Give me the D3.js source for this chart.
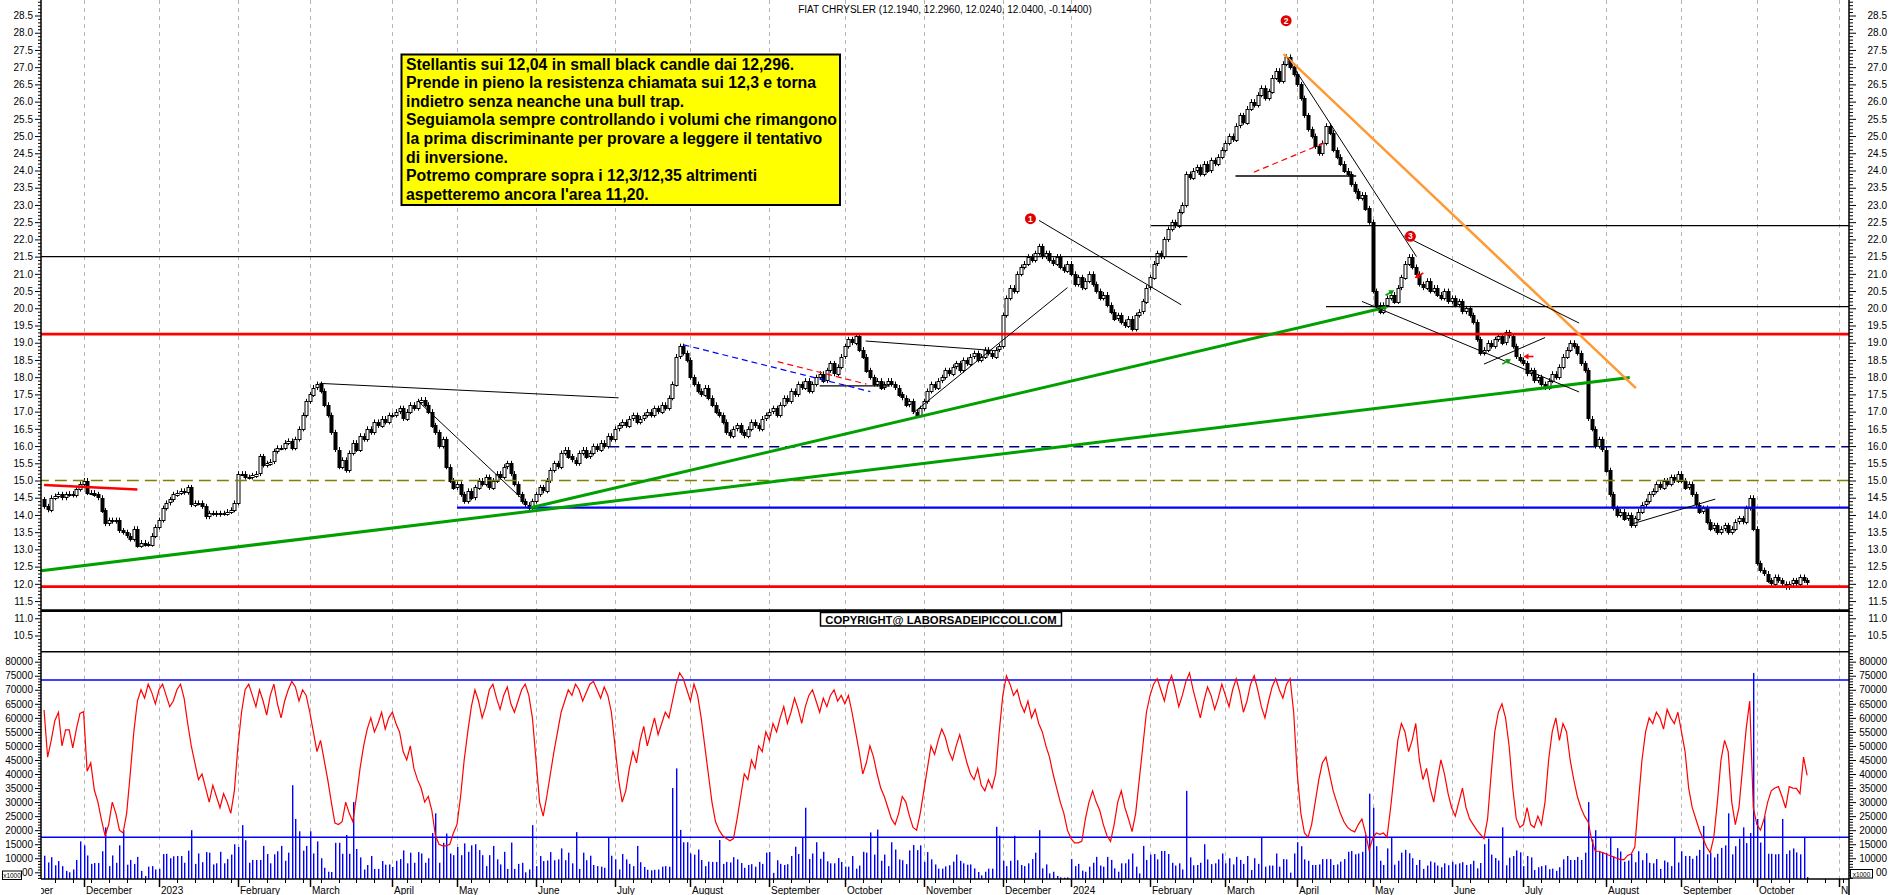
<!DOCTYPE html>
<html>
<head>
<meta charset="utf-8">
<script src="https://cdn.jsdelivr.net/npm/d3@7/dist/d3.min.js"></script>
<style>
  body { margin: 0; background: #fff; }
  svg { display: block; font-family: "Liberation Sans", Arial, sans-serif; }
</style>
</head>
<body>
<script>
// ---- data: daily closes (EUR), one row per month, first day 2022-11-16 ----
var firstOpen = 14.45;
var closes = [
  14.25,14.15,14.5,14.55,14.6,14.5,14.6,14.62,14.58,14.75,14.9,
  15.0,14.65,14.65,14.6,14.5,14.13,13.75,13.85,13.82,13.85,13.55,13.5,13.4,13.3,13.6,13.12,13.2,13.15,13.15,13.4,13.65,
  13.85,14.2,14.35,14.45,14.6,14.65,14.7,14.66,14.8,14.3,14.35,14.35,14.25,13.95,14.05,14.05,14.02,14.05,14.05,14.1,14.15,14.35,
  15.2,15.2,15.1,15.1,15.15,15.2,15.7,15.45,15.5,15.55,15.85,15.95,15.95,16.1,16.15,15.95,16.2,16.5,16.9,17.3,
  17.5,17.7,17.8,17.6,17.2,16.9,16.4,15.9,15.4,15.6,15.3,15.8,16.1,15.9,16.3,16.2,16.5,16.4,16.7,16.6,16.8,16.7,16.9,
  16.9,17.0,17.1,16.8,17.0,17.2,17.1,17.3,17.35,17.2,17.0,16.6,16.4,16.0,16.2,15.4,15.0,14.8,
  14.9,14.6,14.4,14.7,14.5,14.8,15.0,14.9,15.1,14.8,15.0,15.2,15.1,15.4,15.5,15.2,14.9,14.6,14.4,14.3,14.2,14.4,
  14.6,14.8,14.7,15.0,15.3,15.5,15.4,15.8,15.9,15.7,15.6,15.5,15.8,15.9,15.7,15.8,16.0,15.9,16.1,16.0,16.3,16.2,
  16.5,16.6,16.7,16.6,16.8,16.9,16.7,16.8,16.9,17.0,16.9,17.1,17.0,17.2,17.1,17.4,17.8,18.6,18.9,18.7,18.5,
  18.0,17.8,17.6,17.5,17.7,17.4,17.2,17.0,16.9,16.7,16.4,16.3,16.5,16.6,16.4,16.3,16.5,16.7,16.6,16.5,16.8,16.9,
  17.0,17.1,16.9,17.2,17.4,17.3,17.6,17.5,17.8,17.7,17.9,17.6,17.8,18.0,18.1,17.9,18.2,18.4,18.1,18.3,18.6,
  18.9,19.1,19.0,19.2,18.8,18.6,18.2,18.0,17.8,17.9,17.7,17.8,17.9,17.8,17.7,17.5,17.4,17.2,17.3,17.0,16.9,17.1,
  17.3,17.6,17.8,17.7,17.9,18.0,18.2,18.1,18.3,18.4,18.2,18.5,18.4,18.6,18.7,18.5,18.6,18.8,18.7,18.6,18.8,18.9,
  19.8,20.3,20.6,20.5,21.0,21.2,21.3,21.5,21.4,21.6,21.8,21.5,21.6,21.4,21.3,21.5,21.2,21.1,21.3,
  21.0,20.7,20.9,20.6,20.8,21.0,20.7,20.5,20.3,20.4,20.1,19.9,19.7,19.8,19.6,19.5,19.7,19.4,19.8,19.9,20.2,20.6,
  20.9,21.3,21.6,21.5,22.0,22.3,22.5,22.4,22.8,23.0,23.9,23.8,24.0,24.1,23.9,24.2,24.0,24.3,24.2,24.4,24.6,
  24.8,25.0,24.9,25.3,25.6,25.4,25.8,26.0,25.9,26.2,26.4,26.1,26.3,26.7,26.9,26.6,27.1,27.3,27.0,26.8,
  26.5,26.1,25.6,25.2,25.0,24.7,24.5,24.8,25.3,25.1,24.6,24.4,24.2,24.0,23.9,23.6,23.4,23.2,23.3,22.9,22.5,
  20.5,20.1,19.9,20.1,20.3,20.4,20.2,20.6,20.9,21.3,21.5,21.2,21.0,20.7,20.6,20.8,20.5,20.6,20.4,20.3,20.5,20.2,
  20.3,20.1,20.2,19.9,20.0,19.8,19.6,19.1,18.7,18.8,19.0,18.9,19.1,19.2,19.0,19.3,19.2,18.9,18.6,18.5,
  18.4,18.1,18.2,17.9,18.0,17.8,17.7,17.9,18.1,18.0,18.3,18.6,18.8,19.0,18.9,18.7,18.4,18.2,16.8,16.5,16.0,16.2,15.9,
  15.3,14.6,14.2,14.0,14.1,13.9,14.0,13.7,13.9,14.1,14.3,14.4,14.6,14.7,14.9,14.8,15.0,14.9,15.1,15.0,15.2,
  15.0,14.8,14.9,14.6,14.3,14.1,14.2,13.8,13.6,13.7,13.5,13.6,13.7,13.5,13.6,13.8,13.9,13.8,14.2,14.5,13.6,
  12.6,12.4,12.3,12.1,12.0,12.2,12.1,12.0,11.9,12.0,12.1,12.0,12.2,12.1,12.04
];

// daily volume, thousands (axis is x1000)
var volumes = [
  10.9,8.5,10.4,7.5,9,7.2,5.5,5,6,9.4,16,
  14.6,11,8,8.3,8.3,12.5,21,7.2,11,8.4,14.6,20,7.7,9.4,8,10.5,5.5,3.7,7,7.2,6,
  6.2,11.5,11.6,10,10.7,10.8,10.8,8.4,12.7,20,8,11.7,8.6,12.2,12,7.8,8.2,12.3,8.2,9.7,11.3,15,
  14,21.8,16.4,8.4,9.4,9.4,9.4,14.4,11.5,8.2,11.4,12.5,14.4,9.1,12,36,24,19.6,12.7,14.4,
  19.6,11.7,16,10,6.6,5.2,5.1,15.5,15.5,11.6,18.3,11.6,30,13.3,10.3,6,7.6,10.8,6.2,6.2,9,7.7,7.8,
  6.9,9.1,9.7,12.8,8.2,12,8.4,12.2,11.7,8.4,10,19,26,8.4,15.5,18.8,11.7,11.1,
  14,11.1,15.3,12.3,14.6,15,12.9,11.1,7.2,11.1,14.4,9.6,7.8,12.3,6.2,15.6,6.2,8,8.4,5,6,21.8,
  7.2,10.8,9,9.2,12.2,9.3,9.6,13.5,9.3,12,8.2,19.3,6.2,12,9.3,10.9,7.6,7.2,7,6.6,17.4,10.9,
  9.6,6,11.5,9.6,8,7.2,14.4,8.6,6.9,5.9,5.7,5.9,6,7,7.2,7,35,42,20.1,15.7,15.7,
  11.7,11.3,13.1,9.4,7.2,8.8,8.7,8.7,16.5,8,8.7,8.5,10.4,9.6,8.3,6.6,7.6,7.9,7,8.7,8,12,
  12.2,4.8,9.3,8,7.6,7.9,10.8,14.1,11.5,17.4,28,9.7,11.7,15.7,9.8,12.3,8.9,8.2,8.2,10.1,8.7,
  7,7,10.8,6.3,7.4,12.3,12,19.2,11.3,20.2,9.1,11.3,7.2,15.7,13.1,9.6,9.3,7.9,12.8,14.7,12.9,14.6,
  8.7,12.2,9.6,7.8,6.3,6.3,7.1,7.5,8.8,11.3,9.1,8.2,7.7,7.8,6.4,5.1,3.9,5.2,6.3,6.3,21.2,18,
  9.1,7.2,9.1,18,9.3,7.6,7.2,8.2,9.7,12,20,6.4,7.8,4.6,5.2,3.7,3.2,3.1,3.2,
  9.7,7.2,8,5.6,5.2,7,8.4,10.5,7.4,7,10.5,9.4,6.4,5.2,8.2,8.2,9.6,11.7,7,4.6,14.4,9.4,
  11.3,11.5,9.6,12.6,12.6,11.5,8.4,7.4,8.2,6,34,10.3,7.5,7.6,8.4,15,9.6,7.9,8.2,9.6,11.7,
  8.2,10,7.8,10.5,9.4,8,10.8,5.8,10,8,17.6,7,7.4,7.4,11.7,7,9.7,9.6,4.9,11.7,
  15.7,14.3,9.6,9.1,7.6,7.6,7.8,9.7,9.7,9.7,7.6,7.8,8.8,9.7,12.3,12.6,11.4,11.7,12.3,18.2,33,
  28,14.3,9.1,7.6,13.5,17.5,7.7,9.1,12,13,11.8,10,7.6,9.4,6.2,7.4,8.9,8.5,7.4,6.8,8.2,7.5,
  8.7,7.8,8.2,8.6,7.6,7.9,9.1,6.4,8.3,15,17,11.3,10.1,9.2,21,7.5,10.2,10.8,12.8,12.1,
  7.2,10.8,10.3,5.8,6.8,7.2,7.5,6.1,6.3,5.5,6.8,9.6,10.8,9.4,9.4,10.5,9.4,12,30,16.7,20,12.4,12.1,
  11.8,17.5,10.6,13.6,12.4,8.8,9.2,11.6,8.6,12.5,9.3,11.8,8.4,8.2,9.7,6.2,9.2,8.6,7.2,17.4,8.5,
  12.5,10.8,10.8,9.8,10.9,13,21.5,11.4,12.1,10.3,11.6,13.7,14.6,26,11.4,14.3,17,21,15.4,19,76,
  24,15.6,25,11.6,11.6,11.4,11.5,24,11.5,12.8,13.5,12.1,11.4,17.6,3.3
];

// red oscillator plotted on the volume scale (thousands)
var oscillator = [
  62.8,46,52,59,62,50,55.7,55.7,49.3,56,61.6,
  62.2,41,44,34.3,30,23.6,18,22,30,26,20,19,26,40,55,66,70,67,72,69,65,
  70,72,68,64,66,70,72,67,58,50,44,38,40,35,30,36,32,28,33,30,26,34,
  50,62,70,72,68,64,70,66,61,68,72,65,60,66,70,73,71,66,70,68,
  62,55,48,52,45,38,30,22.5,22,23,30,26,23,32,42,50,56,60,55,58,62,56,60,
  62,58,55,48,45,50,42,38,35,30,32,27,18,15,14.4,14.4,15,19,
  22,32,45,55,64,70,66,60,64,70,72,67,63,68,71,65,62,66,70,72,68,60,
  45,30,25,32,40,48,55,62,66,70,68,72,70,66,69,72,73,70,67,71,68,62,
  50,38,30,34,42,48,44,52,57,50,55,60,54,58,62,60,66,72,76,74,70,
  66,72,68,60,50,40,30,23,20,18,17,16.2,17,24,32,40,38,45,42,50,48,55,
  52,58,55,60,64,58,62,67,63,58,64,68,70,66,62,67,64,68,70,66,68,
  65,68,62,55,48,40,44,50,46,40,35,32,28,24,22,26,32,30,25,21,20,26,
  34,42,50,47,52,56,53,48,45,50,54,49,44,40,38,42,36,34,38,35,40,55,
  68,75,72,68,70,65,62,66,60,63,58,55,50,46,40,35,30,26,20,
  17,15.5,15.5,16,24,30,34,30,27,22,18,16,22,30,34,28,24,19.5,26,38,50,62,
  68,72,74,70,66,72,75,70,64,68,73,76,70,65,60,66,71,68,63,67,72,
  68,64,70,74,69,62,66,72,75,70,64,60,66,71,74,70,67,72,74,62,
  40,26,19,17.5,22,30,38,44,46,40,34,30,26,23,21,20,19.4,22,24,19,13,
  17,19,18.5,19,17.5,28,40,52,58,55,48,52,58,45,38,42,35,30,38,45,40,33,
  28,25,30,35,28,24,22,20,18.5,17,24,40,55,62,65,60,50,35,24,21,
  22,28,22,21,25,22,30,45,55,60,52,58,55,45,38,32,28,25,23,16.5,12.5,12.5,12,
  11.5,11,10.5,10,9.5,9.5,11,11.5,14,30,45,55,60,58,62,60,56,63,60,58,62,
  55,48,35,28,24,20,17,14,12,17.5,30,45,52,48,30,22,28,42,56,66,28,
  22,20,24,30,34,35,35.5,32,27.9,35.5,35,34.9,33,46,39.5
];

var volumeLevels = [73.5, 17.5];
var monthNames = ["2023","February","March","April","May","June","July","August","September","October","November","December"];
var holidays = ["2022-12-26","2023-04-07","2023-04-10","2023-05-01","2023-08-15","2023-12-25","2023-12-26",
                "2024-01-01","2024-03-29","2024-04-01","2024-05-01","2024-08-15"];

// horizontal levels: price, from day, to day (day = index in closes)
var levels = [
  {v: 21.5,  a: -2,    b: 318.4, c: "#000", w: 1.3},
  {v: 22.4,  a: 308.3, b: 520,   c: "#000", w: 1.3},
  {v: 23.84, a: 331.8, b: 365.4, c: "#000", w: 1.3},
  {v: 20.05, a: 357,   b: 520,   c: "#000", w: 1.3},
  {v: 17.75, a: 216,   b: 235.5, c: "#000", w: 1.3},
  {v: 19.25, a: -2,    b: 520,   c: "#ff0000", w: 2.6},
  {v: 15.98, a: 157.4, b: 520,   c: "#000080", w: 1.3, dash: "10,6"},
  {v: 15.0,  a: -2,    b: 520,   c: "#808000", w: 1.5, dash: "12,6"},
  {v: 14.21, a: 115,   b: 520,   c: "#0000ff", w: 2.2},
  {v: 11.92, a: -2,    b: 520,   c: "#ff0000", w: 2.6},
  {v: 11.22, a: -2,    b: 520,   c: "#000", w: 2.8}
];

// trend lines: day1, price1, day2, price2
var trends = [
  {a: 0, p: 14.87, b: 26, q: 14.74, c: "#ff0000", w: 2.6},
  {a: -0.8, p: 12.38, b: 441.6, q: 17.99, c: "#00a000", w: 3},
  {a: 135.5, p: 14.21, b: 373.8, q: 20.03, c: "#00a000", w: 3},
  {a: 345.2, p: 27.38, b: 443.3, q: 17.68, c: "#ff9933", w: 2.5},
  {a: 76.7, p: 17.82, b: 160, q: 17.4, c: "#000", w: 1},
  {a: 104.2, p: 17.3, b: 132.8, q: 14.5, c: "#000", w: 1},
  {a: 228.8, p: 19.05, b: 265, q: 18.77, c: "#000", w: 1},
  {a: 241.9, p: 16.95, b: 285, q: 20.6, c: "#000", w: 1},
  {a: 277.1, p: 22.55, b: 316.7, q: 20.1, c: "#000", w: 1},
  {a: 346.3, p: 27.27, b: 382.2, q: 21.5, c: "#000", w: 1},
  {a: 378.8, p: 22.1, b: 427.5, q: 19.57, c: "#000", w: 1},
  {a: 367, p: 20.2, b: 427.5, q: 17.57, c: "#000", w: 1},
  {a: 401, p: 18.38, b: 418, q: 19.15, c: "#000", w: 1},
  {a: 441.6, p: 13.72, b: 465.4, q: 14.46, c: "#000", w: 1},
  {a: 178.1, p: 18.94, b: 230.1, q: 17.58, c: "#0000ff", w: 1.2, dash: "6,4"},
  {a: 204.3, p: 18.45, b: 229, q: 17.8, c: "#ff0000", w: 1.2, dash: "6,4"},
  {a: 336.9, p: 23.95, b: 357, q: 24.82, c: "#ff0000", w: 1.2, dash: "6,4"}
];

var markers = [{i: 274.7, v: 22.6, t: "1"}, {i: 345.9, v: 28.35, t: "2"}, {i: 380.5, v: 22.09, t: "3"}];
// small arrows: day, price, colour, direction in degrees (0 = pointing right)
var arrows = [
  {i: 374.8, v: 20.45, c: "#00a000", r: -30},
  {i: 407.3, v: 18.45, c: "#00a000", r: -30},
  {i: 382.9, v: 20.95, c: "#ff0000", r: 150},
  {i: 413.4, v: 18.6, c: "#ff0000", r: 180}
];

var noteLines = [
  "Stellantis sui 12,04 in small black candle dai 12,296.",
  "Prende in pieno la resistenza chiamata sui 12,3 e torna",
  "indietro senza neanche una bull trap.",
  "Seguiamola sempre controllando i volumi che rimangono",
  "la prima discriminante per provare a leggere il tentativo",
  "di inversione.",
  "Potremo comprare sopra i 12,3/12,35 altrimenti",
  "aspetteremo ancora l'area 11,20."
];
var title = "FIAT CHRYSLER (12.1940, 12.2960, 12.0240, 12.0400, -0.14400)";

// ---- layout ----
var W = 1890, H = 895;
var left = 41, right = 1849, panelSplit = 651.7, volBottom = 879;

// trading calendar
var days = [];
var dt = new Date(Date.UTC(2022, 10, 1));
var last = new Date(Date.UTC(2024, 10, 29));
while (dt <= last) {
  var wd = dt.getUTCDay(), s = dt.toISOString().slice(0, 10);
  if (wd !== 0 && wd !== 6 && holidays.indexOf(s) < 0) days.push(new Date(dt));
  dt.setUTCDate(dt.getUTCDate() + 1);
}
var offset = days.findIndex(function(d) { return d.toISOString().slice(0, 10) === "2022-11-16"; });

var x = d3.scaleLinear().domain([offset - 0.85, offset + 502.65]).range([left, right]);
function X(i) { return x(i + offset); }
var y = d3.scaleLinear().domain([10.03, 28.95]).range([panelSplit, 0]);
var yv = d3.scaleLinear().domain([2.614, 83.561]).range([volBottom, panelSplit]);

var svg = d3.select("body").append("svg").attr("width", W).attr("height", H);
var defs = svg.append("defs");
defs.append("clipPath").attr("id", "cp").append("rect")
  .attr("x", left).attr("y", 0).attr("width", right - left).attr("height", panelSplit);
defs.append("clipPath").attr("id", "cv").append("rect")
  .attr("x", left).attr("y", panelSplit).attr("width", right - left).attr("height", volBottom - panelSplit);
defs.append("clipPath").attr("id", "cx").append("rect")
  .attr("x", left).attr("y", volBottom).attr("width", right - left).attr("height", H - volBottom);

// month starts and week starts
var monthTicks = [], weekTicks = [];
days.forEach(function(d, g) {
  if (g === 0 || d.getUTCMonth() !== days[g - 1].getUTCMonth()) monthTicks.push(g);
  else if (d.getUTCDay() < days[g - 1].getUTCDay()) weekTicks.push(g);
});
function monthLabel(g) {
  var d = days[g], m = d.getUTCMonth();
  return m === 0 ? String(d.getUTCFullYear()) : monthNames[m];
}

// vertical dashed grid
svg.append("g").attr("clip-path", "url(#cp)").selectAll("line").data(monthTicks).enter().append("line")
  .attr("x1", function(g) { return Math.round(x(g)) + 0.5; }).attr("x2", function(g) { return Math.round(x(g)) + 0.5; })
  .attr("y1", 0).attr("y2", panelSplit)
  .attr("stroke", "#b4b4b4").attr("stroke-dasharray", "4,4");
svg.append("g").attr("clip-path", "url(#cv)").selectAll("line").data(monthTicks).enter().append("line")
  .attr("x1", function(g) { return Math.round(x(g)) + 0.5; }).attr("x2", function(g) { return Math.round(x(g)) + 0.5; })
  .attr("y1", panelSplit).attr("y2", volBottom)
  .attr("stroke", "#b4b4b4").attr("stroke-dasharray", "4,4");

// price panel
var gp = svg.append("g").attr("clip-path", "url(#cp)");

// candles
var candles = closes.map(function(c, i) {
  var o = i ? closes[i - 1] : firstOpen;
  return {i: i, o: o, c: c};
});
var gc = gp.append("g");
gc.selectAll("line").data(candles).enter().append("line")
  .attr("x1", function(d) { return Math.round(X(d.i)) + 0.5; })
  .attr("x2", function(d) { return Math.round(X(d.i)) + 0.5; })
  .attr("y1", function(d) { return y(Math.max(d.o, d.c)) - 2.5; })
  .attr("y2", function(d) { return y(Math.min(d.o, d.c)) + 2.5; })
  .attr("stroke", "#000").attr("stroke-width", 1);
gc.selectAll("rect").data(candles).enter().append("rect")
  .attr("x", function(d) { return Math.round(X(d.i)) - 1; })
  .attr("y", function(d) { return Math.round(y(Math.max(d.o, d.c))) + 0.5; })
  .attr("width", 3)
  .attr("height", function(d) { return Math.max(1, Math.round(Math.abs(y(d.o) - y(d.c)))); })
  .attr("fill", function(d) { return d.c >= d.o ? "#fff" : "#000"; })
  .attr("stroke", "#000").attr("stroke-width", 1);

// levels and trend lines
gp.append("g").selectAll("line").data(levels).enter().append("line")
  .attr("x1", function(d) { return X(d.a); }).attr("x2", function(d) { return X(d.b); })
  .attr("y1", function(d) { return y(d.v); }).attr("y2", function(d) { return y(d.v); })
  .attr("stroke", function(d) { return d.c; }).attr("stroke-width", function(d) { return d.w; })
  .attr("stroke-dasharray", function(d) { return d.dash || null; });
gp.append("g").selectAll("line").data(trends).enter().append("line")
  .attr("x1", function(d) { return X(d.a); }).attr("x2", function(d) { return X(d.b); })
  .attr("y1", function(d) { return y(d.p); }).attr("y2", function(d) { return y(d.q); })
  .attr("stroke", function(d) { return d.c; }).attr("stroke-width", function(d) { return d.w; })
  .attr("stroke-dasharray", function(d) { return d.dash || null; });

// arrows
var ga = gp.append("g").selectAll("g").data(arrows).enter().append("g")
  .attr("transform", function(d) { return "translate(" + X(d.i) + "," + y(d.v) + ") rotate(" + d.r + ")"; });
ga.append("line").attr("x1", -5).attr("x2", 2).attr("y1", 0).attr("y2", 0)
  .attr("stroke", function(d) { return d.c; }).attr("stroke-width", 1.6);
ga.append("path").attr("d", "M5,0 L0,-3 L0,3 Z").attr("fill", function(d) { return d.c; });

// numbered markers
var gm = gp.append("g").selectAll("g").data(markers).enter().append("g")
  .attr("transform", function(d) { return "translate(" + X(d.i) + "," + y(d.v) + ")"; });
gm.append("circle").attr("r", 5.5).attr("fill", "#e00000");
gm.append("text").attr("text-anchor", "middle").attr("dy", "3").attr("font-size", 8.5)
  .attr("font-weight", "bold").attr("fill", "#fff").text(function(d) { return d.t; });

// note box
svg.append("rect").attr("x", 401.5).attr("y", 54.5).attr("width", 438.5).attr("height", 150.5)
  .attr("fill", "#ffff00").attr("stroke", "#000").attr("stroke-width", 2);
svg.append("g").selectAll("text").data(noteLines).enter().append("text")
  .attr("x", 406).attr("y", function(d, k) { return 69.5 + k * 18.6; })
  .attr("font-size", 15.8).attr("font-weight", "bold").attr("fill", "#000").text(function(d) { return d; });

// title
svg.append("text").attr("x", 945).attr("y", 13).attr("text-anchor", "middle")
  .attr("font-size", 10).attr("fill", "#000").text(title);

// copyright
svg.append("rect").attr("x", 820.5).attr("y", 612.5).attr("width", 241).attr("height", 13.5)
  .attr("fill", "#fff").attr("stroke", "#000").attr("stroke-width", 1.5);
svg.append("text").attr("x", 941).attr("y", 623.5).attr("text-anchor", "middle")
  .attr("font-size", 11.3).attr("font-weight", "bold").text("COPYRIGHT@ LABORSADEIPICCOLI.COM");

// volume panel
var gv = svg.append("g").attr("clip-path", "url(#cv)");
gv.append("g").selectAll("line").data(volumeLevels).enter().append("line")
  .attr("x1", left).attr("x2", right).attr("y1", function(d) { return yv(d); }).attr("y2", function(d) { return yv(d); })
  .attr("stroke", "#0000ff").attr("stroke-width", 1.5);
gv.append("g").selectAll("rect").data(volumes).enter().append("rect")
  .attr("x", function(d, i) { return Math.round(X(i)); })
  .attr("y", function(d) { return yv(d); })
  .attr("width", 1.4)
  .attr("height", function(d) { return Math.max(0, volBottom - yv(d)); })
  .attr("fill", "#0000ff");
gv.append("path").datum(oscillator)
  .attr("d", d3.line().x(function(d, i) { return X(i); }).y(function(d) { return yv(d); }))
  .attr("fill", "none").attr("stroke", "#ff0000").attr("stroke-width", 1.2);

// panel borders
svg.append("line").attr("x1", left).attr("x2", right).attr("y1", panelSplit).attr("y2", panelSplit)
  .attr("stroke", "#000").attr("stroke-width", 1.5);
svg.append("line").attr("x1", left).attr("x2", right).attr("y1", volBottom).attr("y2", volBottom)
  .attr("stroke", "#000").attr("stroke-width", 1.5);
svg.append("line").attr("x1", left).attr("x2", left).attr("y1", 0).attr("y2", volBottom)
  .attr("stroke", "#000").attr("stroke-width", 1.5);
svg.append("line").attr("x1", right).attr("x2", right).attr("y1", 0).attr("y2", H)
  .attr("stroke", "#000").attr("stroke-width", 1.5);

// axes
function styleAxis(g) {
  g.select(".domain").remove();
  g.selectAll("text").attr("font-size", 10).attr("fill", "#000").attr("font-family", "Liberation Sans, Arial, sans-serif");
  g.selectAll("line").attr("stroke", "#000");
}
var majorP = d3.range(21, 58).map(function(k) { return k / 2; });
var minorP = d3.range(101, 290).map(function(k) { return k / 10; }).filter(function(v) { return Math.round(v * 10) % 5 !== 0; });
var fmtP = d3.format(".1f");
svg.append("g").attr("transform", "translate(" + left + ",0)")
  .call(d3.axisLeft(y).tickValues(minorP).tickSize(3).tickFormat("")).call(styleAxis);
svg.append("g").attr("transform", "translate(" + left + ",0)")
  .call(d3.axisLeft(y).tickValues(majorP).tickSize(6).tickPadding(2).tickFormat(fmtP)).call(styleAxis);
svg.append("g").attr("transform", "translate(" + right + ",0)")
  .call(d3.axisRight(y).tickValues(minorP).tickSize(4).tickFormat("")).call(styleAxis);
svg.append("g").attr("transform", "translate(" + right + ",0)")
  .call(d3.axisRight(y).tickValues(majorP).tickSize(7).tickFormat(fmtP)).call(styleAxis)
  .selectAll("text").attr("x", 38).attr("text-anchor", "end");

// volume axis: the lowest label (5000) is half hidden by the x1000 box, only "00" shows
var majorV = d3.range(5, 81, 5);
var minorV = d3.range(3, 84).filter(function(v) { return v % 5 !== 0; });
var fmtV = function(v) { return v === 5 ? "00" : String(v * 1000); };
svg.append("g").attr("transform", "translate(" + left + ",0)")
  .call(d3.axisLeft(yv).tickValues(minorV).tickSize(3).tickFormat("")).call(styleAxis);
svg.append("g").attr("transform", "translate(" + left + ",0)")
  .call(d3.axisLeft(yv).tickValues(majorV).tickSize(6).tickPadding(2).tickFormat(fmtV)).call(styleAxis);
svg.append("g").attr("transform", "translate(" + right + ",0)")
  .call(d3.axisRight(yv).tickValues(minorV).tickSize(4).tickFormat("")).call(styleAxis);
svg.append("g").attr("transform", "translate(" + right + ",0)")
  .call(d3.axisRight(yv).tickValues(majorV).tickSize(7).tickFormat(fmtV)).call(styleAxis)
  .selectAll("text").attr("x", 38).attr("text-anchor", "end");

// x1000 boxes
[[2.5, 871, 19], [1850.5, 869.5, 22]].forEach(function(b) {
  svg.append("rect").attr("x", b[0]).attr("y", b[1]).attr("width", b[2]).attr("height", 8.5)
    .attr("fill", "#fff").attr("stroke", "#000").attr("stroke-width", 1);
  svg.append("text").attr("x", b[0] + b[2] / 2).attr("y", b[1] + 7).attr("text-anchor", "middle")
    .attr("font-size", 6.5).text("x1000");
});

// time axis
var gx = svg.append("g").attr("clip-path", "url(#cx)");
gx.selectAll("line.w").data(weekTicks).enter().append("line")
  .attr("x1", function(g) { return Math.round(x(g)) + 0.5; }).attr("x2", function(g) { return Math.round(x(g)) + 0.5; })
  .attr("y1", volBottom).attr("y2", volBottom + 4).attr("stroke", "#000");
gx.selectAll("line.m").data(monthTicks).enter().append("line")
  .attr("x1", function(g) { return Math.round(x(g)) + 0.5; }).attr("x2", function(g) { return Math.round(x(g)) + 0.5; })
  .attr("y1", volBottom).attr("y2", volBottom + 8).attr("stroke", "#000").attr("stroke-width", 1.5);
gx.selectAll("text").data(monthTicks).enter().append("text")
  .attr("x", function(g) { return Math.round(x(g)) + 2; }).attr("y", 894)
  .attr("font-size", 10).attr("fill", "#000").text(monthLabel);
</script>
</body>
</html>
